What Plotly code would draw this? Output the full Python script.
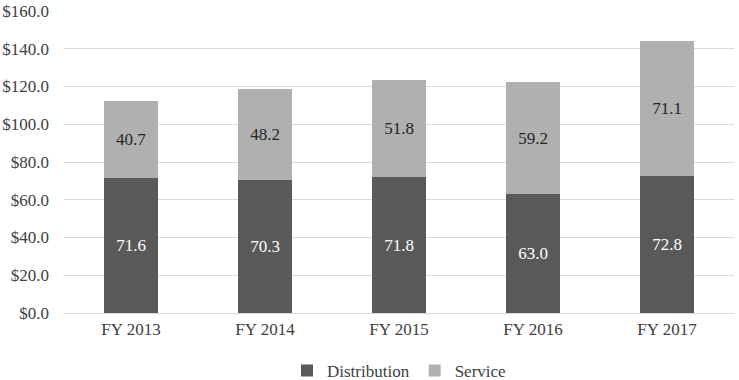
import plotly.graph_objects as go

categories = ["FY 2013", "FY 2014", "FY 2015", "FY 2016", "FY 2017"]
distribution = [71.6, 70.3, 71.8, 63.0, 72.8]
service = [40.7, 48.2, 51.8, 59.2, 71.1]
tick_vals = [0, 20, 40, 60, 80, 100, 120, 140, 160]
tick_text = ["$%.1f" % v for v in tick_vals]

font_family = "Liberation Serif, Times New Roman, serif"
fs = 17

fig = go.Figure()
fig.add_trace(go.Bar(
    x=categories, y=distribution, name="Distribution",
    marker=dict(color="#595959", line=dict(width=0)),
    text=["%.1f" % v for v in distribution], textposition="inside",
    insidetextanchor="middle",
    textfont=dict(color="white", size=fs, family=font_family),
))
fig.add_trace(go.Bar(
    x=categories, y=service, name="Service",
    marker=dict(color="#b0b0b0", line=dict(width=0)),
    text=["%.1f" % v for v in service], textposition="inside",
    insidetextanchor="middle",
    textfont=dict(color="#262626", size=fs, family=font_family),
))

fig.update_layout(
    barmode="stack",
    bargap=0.6,
    width=739, height=380,
    margin=dict(l=64, r=5, t=11, b=67, autoexpand=False),
    paper_bgcolor="white", plot_bgcolor="white",
    font=dict(family=font_family, size=fs, color="#404040"),
    showlegend=True,
    legend=dict(orientation="h", x=0.5, xanchor="center", y=-0.132, yanchor="top",
                font=dict(size=fs, color="#404040"), traceorder="normal",
                itemwidth=30, tracegroupgap=0),
    uniformtext=dict(mode=False),
)
fig.update_yaxes(range=[0, 160], tickvals=tick_vals, ticktext=tick_text,
                 showgrid=True, gridcolor="#d9d9d9", gridwidth=1,
                 zeroline=True, zerolinecolor="#d9d9d9", zerolinewidth=1,
                 showline=False, ticks="", ticklabelstandoff=14, automargin=False)
fig.update_xaxes(showgrid=False, showline=False, ticks="", tickfont=dict(size=fs),
                 ticklabelstandoff=4, automargin=False)

fig.write_html("out.html",
               config={"displayModeBar": False},
               post_script="document.body.style.margin='0px';document.body.style.overflow='hidden';")
